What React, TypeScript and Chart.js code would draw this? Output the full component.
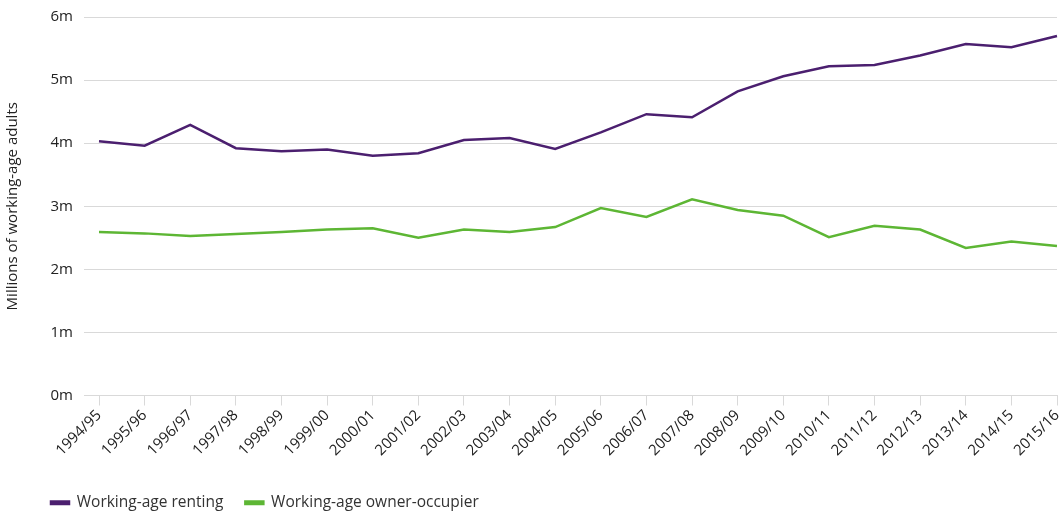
import React, { useEffect, useRef } from "react";
import { Chart, registerables } from "chart.js";

Chart.register(...registerables);

const categories = [
  "1994/95", "1995/96", "1996/97", "1997/98", "1998/99", "1999/00", "2000/01",
  "2001/02", "2002/03", "2003/04", "2004/05", "2005/06", "2006/07", "2007/08",
  "2008/09", "2009/10", "2010/11", "2011/12", "2012/13", "2013/14", "2014/15", "2015/16",
];

const renting = [
  4.03, 3.96, 4.29, 3.92, 3.87, 3.9, 3.8, 3.84, 4.05, 4.08, 3.91,
  4.17, 4.46, 4.41, 4.82, 5.06, 5.22, 5.24, 5.39, 5.57, 5.52, 5.7,
];

const ownerOccupier = [
  2.59, 2.57, 2.53, 2.56, 2.59, 2.63, 2.65, 2.5, 2.63, 2.59, 2.67,
  2.97, 2.83, 3.11, 2.94, 2.85, 2.51, 2.69, 2.63, 2.34, 2.44, 2.37,
];

const yTicks = [0, 1, 2, 3, 4, 5, 6];

const PURPLE = "#4b1f6f";
const GREEN = "#5db634";
const GRID = "#d9d9d9";
const TEXT = "#222222";

const legendShift = {
  id: "legendShift",
  beforeDraw(chart: any) {
    if (chart.legend) {
      chart.legend.left = 29;
      chart.legend.top = 473;
    }
  },
};

export default function App() {
  const ref = useRef<HTMLCanvasElement | null>(null);

  useEffect(() => {
    document.body.style.margin = "0";
    if (!ref.current) return;
    const chart = new Chart(ref.current, {
      type: "line",
      data: {
        labels: categories,
        datasets: [
          {
            label: "Working-age renting",
            data: renting,
            borderColor: PURPLE,
            backgroundColor: PURPLE,
            borderWidth: 2.5,
            pointRadius: 0,
            tension: 0,
          },
          {
            label: "Working-age owner-occupier",
            data: ownerOccupier,
            borderColor: GREEN,
            backgroundColor: GREEN,
            borderWidth: 2.5,
            pointRadius: 0,
            tension: 0,
          },
        ],
      },
      options: {
        animation: false,
        responsive: true,
        maintainAspectRatio: false,
        layout: { padding: { top: 17, right: 2, left: 0, bottom: 0 } },
        plugins: {
          tooltip: { enabled: false },
          legend: {
            position: "bottom",
            align: "start",
            labels: {
              color: "#333333",
              font: { family: "'Open Sans'", size: 15.5 },
              boxWidth: 18,
              boxHeight: 2.5,
              padding: 22,
            },
          },
        },
        scales: {
          x: {
            afterFit: (scale: any) => {
              scale.height = 71;
              scale.paddingRight = 0;
              scale.paddingLeft = 0;
            },
            grid: {
              display: true,
              drawOnChartArea: false,
              drawTicks: true,
              tickLength: 10,
              color: GRID,
            },
            border: { color: GRID, width: 1 },
            ticks: {
              autoSkip: false,
              minRotation: 45,
              maxRotation: 45,
              color: TEXT,
              padding: 1,
              font: { family: "'Open Sans'", size: 15 },
            },
          },
          y: {
            min: 0,
            max: 6,
            afterBuildTicks: (scale: any) => {
              scale.ticks = yTicks.map((v) => ({ value: v }));
            },
            afterFit: (scale: any) => {
              scale.width = 99;
              scale.paddingTop = 0;
              scale.paddingBottom = 0;
            },
            grid: { color: GRID, tickLength: 15, drawTicks: true },
            border: { display: false },
            ticks: {
              padding: 11,
              color: TEXT,
              font: { family: "'Open Sans'", size: 15 },
              callback: (v: any) => `${v}m`,
            },
            title: {
              display: true,
              text: "Millions of working-age adults",
              color: TEXT,
              font: { family: "'Open Sans'", size: 15 },
              padding: { top: 4, bottom: 0 },
            },
          },
        },
      },
      plugins: [legendShift],
    });
    return () => chart.destroy();
  }, []);

  return (
    <div style={{ width: 1059, height: 514, position: "relative" }}>
      <canvas ref={ref} />
    </div>
  );
}
